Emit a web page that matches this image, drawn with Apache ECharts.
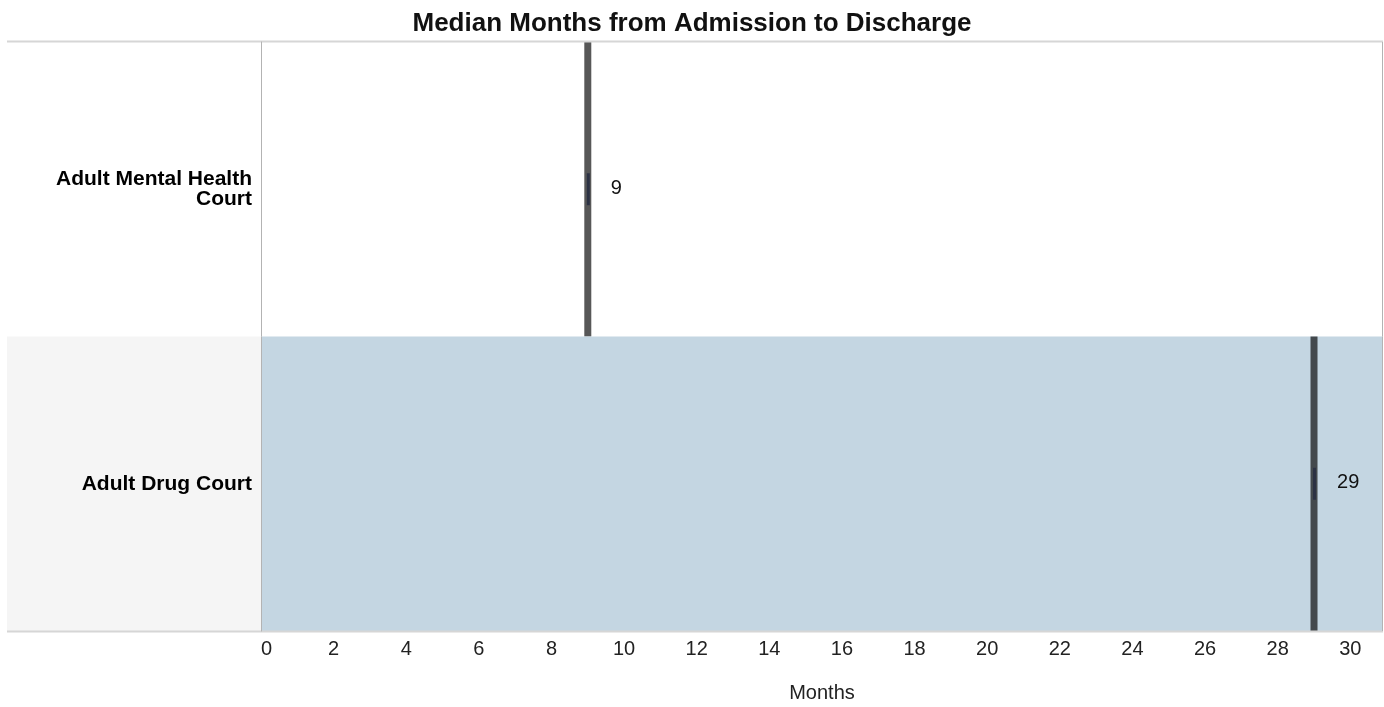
<!DOCTYPE html>
<html lang="en">
<head>
<meta charset="UTF-8">
<title>Median Months from Admission to Discharge</title>
<script src="https://cdn.jsdelivr.net/npm/echarts@6/dist/echarts.min.js"></script>
<style>
  html, body { margin: 0; padding: 0; background: #fff; }
  #main { width: 1384px; height: 707px; }
</style>
</head>
<body>
<div id="main"></div>
<script>
// data
var categories = ['Adult Mental Health Court', 'Adult Drug Court'];
var medianMonths = [9, 29];
var highlighted = [false, true];
var axisMax = 30.9;

var FONT = 'Arial, "Liberation Sans", sans-serif';
var GRID = { left: 261, right: 1, top: 42, bottom: 76 };
var W = 1384, H = 707;

var chart = echarts.init(document.getElementById('main'));

var seriesData = categories.map(function (c, i) { return [i, medianMonths[i]]; });

function renderItem(params, api) {
    var idx = api.value(0);
    var val = api.value(1);
    var base = api.coord([0, idx]);
    var pt = api.coord([val, idx]);
    var bandH = api.size([0, 1])[1];
    var top = pt[1] - bandH / 2;
    var cs = params.coordSys;
    var kids = [];
    if (highlighted[idx]) {
        kids.push({ type: 'rect', shape: { x: 7, y: top, width: base[0] - 7, height: bandH },
            style: { fill: '#f5f5f5' } });
        kids.push({ type: 'rect', shape: { x: cs.x, y: top, width: cs.width, height: bandH },
            style: { fill: '#c4d6e2' } });
    }
    kids.push({ type: 'rect', shape: { x: pt[0] - 3.5, y: top, width: 7, height: bandH },
        style: { fill: 'rgba(0,0,0,0.66)' } });
    kids.push({ type: 'rect', shape: { x: pt[0] - 1, y: pt[1] - 16, width: 3, height: 32 },
        style: { fill: '#2c3244' } });
    kids.push({ type: 'text', x: pt[0] + 23, y: pt[1] - 1,
        style: { text: String(val), fill: '#111', font: '20px ' + FONT,
            textAlign: 'left', textVerticalAlign: 'middle' } });
    return { type: 'group', children: kids };
}

var option = {
    animation: false,
    title: {
        text: 'Median Months from Admission to Discharge',
        left: 'center',
        top: 6,
        textStyle: { fontFamily: FONT, fontSize: 26, fontWeight: 'bold', color: '#111' }
    },
    grid: {
        left: GRID.left, right: GRID.right, top: GRID.top, bottom: GRID.bottom,
        containLabel: false, outerBoundsMode: 'none'
    },
    xAxis: {
        type: 'value',
        min: 0,
        max: axisMax,
        interval: 2,
        name: 'Months',
        nameLocation: 'middle',
        nameGap: 52,
        nameTextStyle: { fontFamily: FONT, fontSize: 20, color: '#222' },
        axisLine: { show: false },
        axisTick: { show: false },
        splitLine: { show: false },
        axisLabel: {
            fontFamily: FONT, fontSize: 20, color: '#222', margin: 8,
            showMaxLabel: false, alignMinLabel: 'left',
            formatter: function (v) { return Math.abs(v - axisMax) < 0.01 ? '' : v; }
        }
    },
    yAxis: {
        type: 'category',
        data: categories,
        inverse: true,
        z: 10,
        axisLine: { show: true, lineStyle: { color: '#b3b3b3', width: 1 } },
        axisTick: { show: false },
        splitLine: { show: false },
        axisLabel: {
            fontFamily: FONT, fontSize: 21, fontWeight: 'bold', color: '#000',
            margin: 9, lineHeight: 20, align: 'right',
            formatter: function (v) { return v.replace('Health ', 'Health\n'); }
        }
    },
    graphic: [
        { type: 'line', shape: { x1: 7, y1: GRID.top - 0.5, x2: W - GRID.right, y2: GRID.top - 0.5 },
          style: { stroke: '#d6d6d6', lineWidth: 2 }, z: 10 },
        { type: 'line', shape: { x1: 7, y1: H - GRID.bottom + 0.5, x2: W - GRID.right, y2: H - GRID.bottom + 0.5 },
          style: { stroke: '#d6d6d6', lineWidth: 2 }, z: 10 },
        { type: 'line', shape: { x1: W - GRID.right - 0.5, y1: GRID.top, x2: W - GRID.right - 0.5, y2: H - GRID.bottom },
          style: { stroke: '#b3b3b3', lineWidth: 1 }, z: 10 }
    ],
    series: [{
        type: 'custom',
        renderItem: renderItem,
        encode: { x: 1, y: 0 },
        data: seriesData,
        clip: false,
        z: 1
    }]
};

chart.setOption(option);
</script>
</body>
</html>
